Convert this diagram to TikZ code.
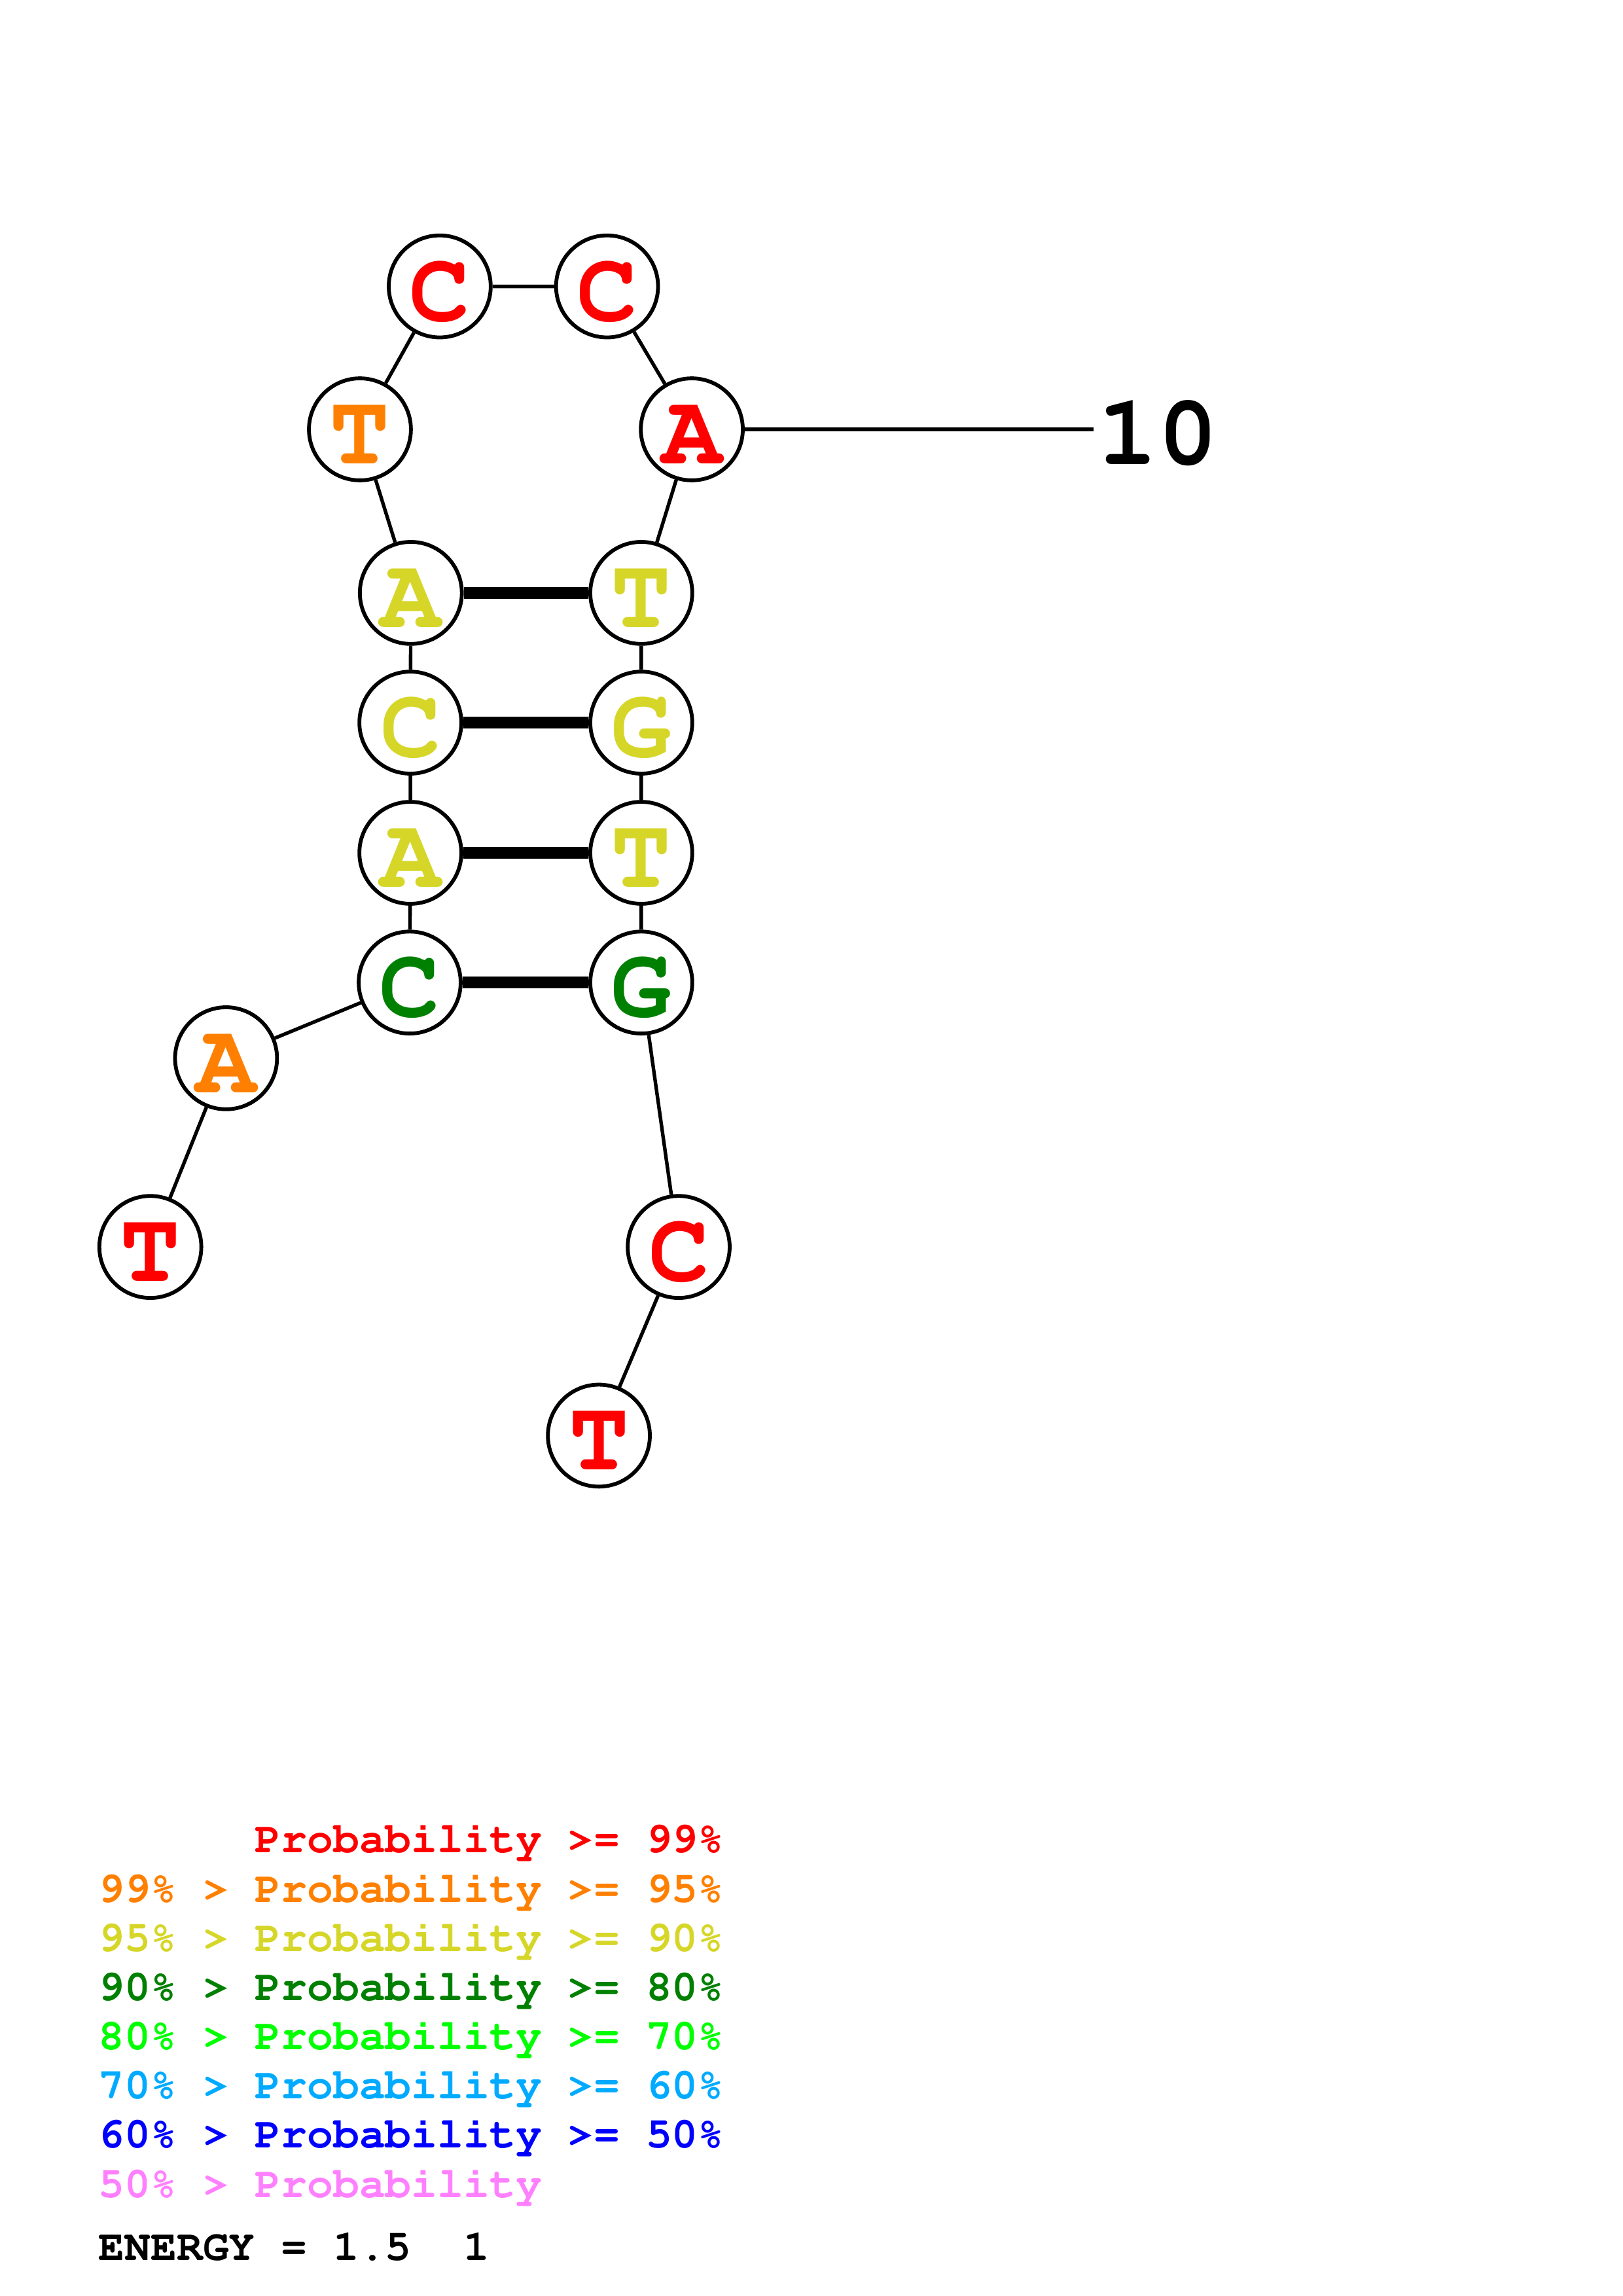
\documentclass[tikz,border=0pt]{standalone}
\usepackage[T1]{fontenc}
\usepackage{courier}
\usepackage{xcolor}
\definecolor{pr99}{RGB}{255,0,0}
\definecolor{pr95}{RGB}{255,128,0}
\definecolor{pr90}{RGB}{214,214,41}
\definecolor{pr80}{RGB}{0,128,0}
\definecolor{pr70}{RGB}{0,255,0}
\definecolor{pr60}{RGB}{0,170,255}
\definecolor{pr50}{RGB}{0,0,255}
\definecolor{prlow}{RGB}{255,128,255}

\begin{document}
\begin{tikzpicture}[
  base/.style={circle,draw=black,fill=white,line width=1.4pt,minimum size=1.32cm,inner sep=0pt,
    font=\ttfamily\bfseries\fontsize{37}{40}\selectfont,text height=0.89cm,text depth=0cm,text=#1},
  bb/.style={line width=1.3pt},
  bp/.style={line width=4.4pt},
  legtext/.style={anchor=base west,inner sep=0pt,font=\ttfamily\bfseries\fontsize{16}{18}\selectfont,text=#1}]
\useasboundingbox (0,0) rectangle (21,-29.717);
\node[base=pr99] (t1) at (1.946,-16.139) {T};
\node[base=pr95] (a2) at (2.926,-13.697) {A};
\node[base=pr80] (c3) at (5.303,-12.717) {C};
\node[base=pr90] (a4) at (5.312,-11.038) {A};
\node[base=pr90] (c5) at (5.312,-9.353) {C};
\node[base=pr90] (a6) at (5.318,-7.674) {A};
\node[base=pr95] (t7) at (4.659,-5.557) {T};
\node[base=pr99] (c8) at (5.692,-3.707) {C};
\node[base=pr99] (c9) at (7.858,-3.707) {C};
\node[base=pr99] (a10) at (8.955,-5.557) {A};
\node[base=pr90] (t11) at (8.301,-7.674) {T};
\node[base=pr90] (g12) at (8.301,-9.353) {G};
\node[base=pr90] (t13) at (8.301,-11.038) {T};
\node[base=pr80] (g14) at (8.301,-12.717) {G};
\node[base=pr99] (c15) at (8.785,-16.139) {C};
\node[base=pr99] (t16) at (7.752,-18.581) {T};
\draw[bb] (t1) -- (a2) -- (c3) -- (a4) -- (c5) -- (a6) -- (t7) -- (c8) -- (c9) -- (a10) -- (t11) -- (g12) -- (t13) -- (g14) -- (c15) -- (t16);
\draw[bp] (c3) -- (g14);
\draw[bp] (a4) -- (t13);
\draw[bp] (c5) -- (g12);
\draw[bp] (a6) -- (t11);
\coordinate (tick10) at (14.158,-5.557);
\node[anchor=west,inner sep=0pt,font=\ttfamily\bfseries\fontsize{37}{40}\selectfont] (lab10) at (14.2,-5.61) {10};
\draw[bb] (a10) -- (tick10);
\node[legtext=pr99] (leg1) at (1.27,-23.981) {\phantom{99\% >} Probability >= 99\%};
\node[legtext=pr95] (leg2) at (1.27,-24.618) {99\% > Probability >= 95\%};
\node[legtext=pr90] (leg3) at (1.27,-25.255) {95\% > Probability >= 90\%};
\node[legtext=pr80] (leg4) at (1.27,-25.892) {90\% > Probability >= 80\%};
\node[legtext=pr70] (leg5) at (1.27,-26.529) {80\% > Probability >= 70\%};
\node[legtext=pr60] (leg6) at (1.27,-27.165) {70\% > Probability >= 60\%};
\node[legtext=pr50] (leg7) at (1.27,-27.802) {60\% > Probability >= 50\%};
\node[legtext=prlow] (leg8) at (1.27,-28.439) {50\% > Probability};
\node[legtext=black] (energy) at (1.27,-29.252) {ENERGY = 1.5~~1};
\end{tikzpicture}
\end{document}
